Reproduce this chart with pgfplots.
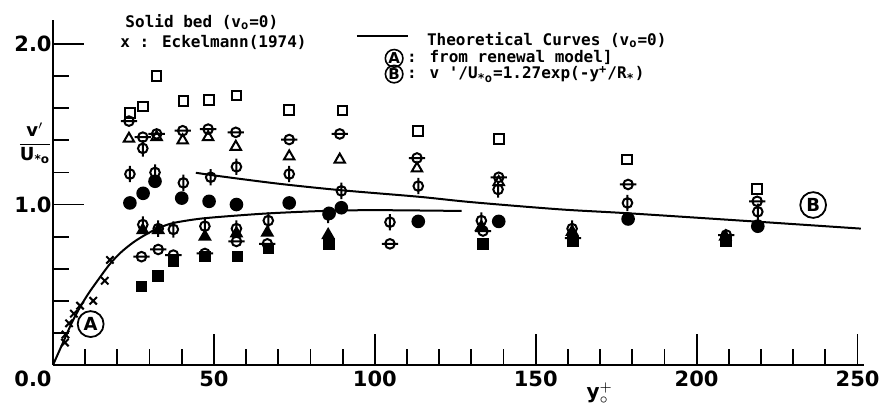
\documentclass[border=0pt]{standalone}
\usepackage{pgfplots}
\pgfplotsset{compat=1.18}
\usepackage{fontspec}
\setmainfont{DejaVu Sans}
\newfontfamily\mono{DejaVu Sans Mono}
\newfontfamily\tickf{DejaVu Sans}

\pgfdeclareplotmark{hbar}{%
  \pgfpathcircle{\pgfpointorigin}{\pgfplotmarksize}%
  \pgfpathmoveto{\pgfpoint{-1.7\pgfplotmarksize}{0pt}}%
  \pgfpathlineto{\pgfpoint{1.7\pgfplotmarksize}{0pt}}%
  \pgfusepathqstroke}
\pgfdeclareplotmark{vbar}{%
  \pgfpathcircle{\pgfpointorigin}{\pgfplotmarksize}%
  \pgfpathmoveto{\pgfpoint{0pt}{-1.7\pgfplotmarksize}}%
  \pgfpathlineto{\pgfpoint{0pt}{1.7\pgfplotmarksize}}%
  \pgfusepathqstroke}

\begin{document}
\begin{tikzpicture}
\begin{axis}[
  scale only axis, width=405.5pt, height=172.5pt,
  xmin=0, xmax=252, ymin=0, ymax=2.15,
  enlargelimits=false, clip=false,
  axis lines=left, axis line style={-, line width=1.2pt},
  tick align=inside,
  xtick={50,100,150,200,250}, xticklabels={50,100,150,200,250},
  minor xtick={10,20,30,40,60,70,80,90,110,120,130,140,160,170,180,190,210,220,230,240},
  ytick={1,2}, yticklabels={1.0,2.0},
  minor ytick={0.2,0.4,0.6,0.8,1.2,1.4,1.6,1.8},
  major tick length=15.5pt, minor tick length=8pt,
  tick style={line width=0.9pt, black},
  ticklabel style={font=\tickf\bfseries\fontsize{10.5}{12}\selectfont},
  yticklabel style={inner xsep=0.5pt},
  xticklabel style={inner ysep=3pt},
  every axis plot/.append style={mark options={line width=1pt}},
]
\coordinate (bl) at (rel axis cs:0,0);
\coordinate (tr) at (rel axis cs:1,1);

% theoretical curves
\addplot[line width=1pt, smooth, tension=0.5] coordinates {
(0,0) (2,0.09) (4,0.18) (6,0.27) (8.4,0.36) (11,0.445) (14,0.53) (17.5,0.625)
(21,0.70) (25,0.765) (29,0.815) (33,0.855) (37.4,0.885) (45,0.91) (53,0.925)
(67,0.945) (84,0.96) (100,0.965) (127,0.96)};
\addplot[line width=1pt, smooth] coordinates {
(44.4,1.198) (51.3,1.178) (70,1.13) (89.1,1.09) (113.4,1.049) (130,1.015)
(157.5,0.97) (179.2,0.945) (219,0.893) (251,0.85)};

% Eckelmann crosses
\addplot[only marks, mark=x, mark size=2.6pt] coordinates {
(3.7,0.14) (3.9,0.19) (5.0,0.26) (6.5,0.32) (8.4,0.37) (12.5,0.40) (16.1,0.525) (17.7,0.655)};

% open squares
\addplot[only marks, mark=square, mark size=2.4pt] coordinates {
(23.9,1.57) (28.0,1.61) (32.2,1.80) (40.5,1.645) (48.5,1.65) (57.0,1.68) (73.4,1.59)
(90.0,1.585) (113.5,1.46) (138.5,1.41) (178.4,1.28) (218.8,1.095)};
% horizontal-bar circles (upper)
\addplot[only marks, mark=hbar, mark size=2.4pt] coordinates {
(23.6,1.52) (27.9,1.42) (32.2,1.44) (40.3,1.46) (48.2,1.47) (56.8,1.45) (73.4,1.405)
(89.1,1.44) (113.1,1.29) (138.5,1.17) (178.7,1.125) (218.8,1.02)};
% open triangles
\addplot[only marks, mark=triangle, mark size=3pt] coordinates {
(23.6,1.41) (32.2,1.42) (40.3,1.40) (48.2,1.42) (56.8,1.36) (73.4,1.30) (89.1,1.28)
(113.1,1.225) (138.5,1.14)};
% vertical-bar circles (upper)
\addplot[only marks, mark=vbar, mark size=2.4pt] coordinates {
(23.9,1.19) (27.9,1.35) (31.7,1.20) (40.5,1.135) (49.0,1.17) (57.0,1.235) (73.4,1.19)
(89.6,1.085) (113.5,1.115) (138.3,1.094) (178.5,1.01) (219,0.955)};
% filled circles
\addplot[only marks, mark=*, mark size=2.9pt] coordinates {
(23.9,1.01) (28.0,1.07) (31.7,1.145) (40.0,1.04) (48.5,1.02) (57.0,1.00) (73.4,1.01)
(85.8,0.945) (89.6,0.98) (113.5,0.895) (138.5,0.895) (178.7,0.91) (219,0.865)};

% lower group
\addplot[only marks, mark=vbar, mark size=2.4pt] coordinates {
(27.9,0.875) (32.7,0.85) (37.4,0.845) (47.2,0.865) (57.0,0.85) (66.9,0.90) (85.5,0.935)
(104.7,0.89) (133.1,0.90) (161.3,0.85)};
\addplot[only marks, mark=triangle*, mark size=3pt] coordinates {
(27.9,0.84) (32.7,0.84) (47.2,0.80) (57.0,0.82) (66.6,0.825) (85.5,0.81)
(133.1,0.86) (161.3,0.83) (208.9,0.80)};
\addplot[only marks, mark=hbar, mark size=2.4pt] coordinates {
(27.5,0.675) (32.7,0.72) (37.4,0.685) (47.2,0.695) (57.0,0.77) (66.6,0.755)
(104.7,0.755) (133.6,0.835) (161.6,0.79) (209.2,0.81)};
\addplot[only marks, mark=square*, mark size=2.4pt] coordinates {
(27.5,0.49) (32.7,0.556) (37.4,0.645) (47.2,0.675) (57.3,0.675) (66.9,0.727)
(85.8,0.755) (133.6,0.755) (161.6,0.77) (209.2,0.77)};

% annotations
\node[circle, draw, line width=0.9pt, inner sep=1.2pt, font=\bfseries\fontsize{9}{10}\selectfont] at (axis cs:11.7,0.255) {A};
\node[circle, draw, line width=0.9pt, inner sep=1.2pt, font=\bfseries\fontsize{9}{10}\selectfont] at (axis cs:236.2,0.997) {B};

% texts
\node[anchor=base west, inner sep=0pt, font=\mono\bfseries\fontsize{8}{9}\selectfont] at (axis cs:22.4,2.106) {Solid bed (v\textsubscript{o}=0)};
\node[anchor=base west, inner sep=0pt, font=\mono\bfseries\fontsize{8}{9}\selectfont] at (axis cs:20.8,1.98) {x : Eckelmann(1974)};
\draw[line width=1pt] (axis cs:94.4,2.05) -- (axis cs:110.2,2.05);
\node[anchor=base west, inner sep=0pt, font=\mono\bfseries\fontsize{8}{9}\selectfont] at (axis cs:116.1,1.988) {Theoretical Curves (v\textsubscript{o}=0)};
\node[circle, draw, line width=0.8pt, inner sep=0.3pt, font=\bfseries\fontsize{7.5}{8}\selectfont] at (axis cs:106.0,1.911) {A};
\node[anchor=base west, inner sep=0pt, font=\mono\bfseries\fontsize{8}{9}\selectfont] at (axis cs:109.9,1.883) {: from renewal model]};
\node[circle, draw, line width=0.8pt, inner sep=0.3pt, font=\bfseries\fontsize{7.5}{8}\selectfont] at (axis cs:106.0,1.813) {B};
\node[anchor=base west, inner sep=0pt, font=\mono\bfseries\fontsize{8}{9}\selectfont] at (axis cs:109.9,1.784) {: v '/U\textsubscript{*o}=1.27exp(-y\textsuperscript{+}/R\textsubscript{*})};

% axis labels
\node[font=\bfseries\fontsize{9}{10}\selectfont] at (axis cs:-5.6,1.383) {$\displaystyle\frac{\mbox{\bfseries v$'$}}{\mbox{\bfseries U\textsubscript{*o}}}$};
\node[font=\bfseries\fontsize{10}{11}\selectfont] at (axis cs:169.9,-0.174) {y$^{+}_{\circ}$};
\node[anchor=north east, inner xsep=0.5pt, inner ysep=3pt, font=\tickf\bfseries\fontsize{10.5}{12}\selectfont] at (axis cs:0,0) {0.0};
\end{axis}
\pgfresetboundingbox
\path ([shift={(-26.5pt,-21.5pt)}]bl) rectangle ([shift={(9pt,10pt)}]tr);
\end{tikzpicture}
\end{document}
